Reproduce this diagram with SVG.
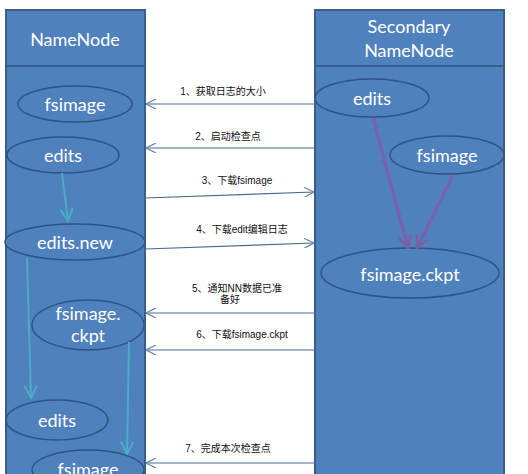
<svg xmlns="http://www.w3.org/2000/svg" width="528" height="474" viewBox="0 0 528 474">
<defs>
<style>
.box{fill:#4f81bd;stroke:#3b5f8d;stroke-width:2}
.ell{fill:#4f81bd;stroke:#2f5486;stroke-width:1.5}
.t{font-family:Lato,"Open Sans","Noto Sans",sans-serif;font-size:18px;fill:#ffffff;text-anchor:middle}
.lb{font-family:"Liberation Sans","Noto Sans CJK SC",sans-serif;font-size:10px;fill:#111;text-anchor:middle}
.msg{stroke:#4a6a93;stroke-width:1.2;fill:none}
.teal{stroke:#4bacc6;stroke-width:2;fill:none}
.purp{stroke:#7d5ea8;stroke-width:3.5;fill:none;stroke-opacity:0.85}
</style>
<marker id="open" viewBox="0 0 10 10" refX="10" refY="5" markerWidth="10" markerHeight="10" markerUnits="userSpaceOnUse" orient="auto">
<path d="M0,0 L10,5 L0,10" fill="none" stroke="#6a87ab" stroke-width="1.2"/>
</marker>
<marker id="tealhead" viewBox="0 0 10 10" refX="9" refY="5" markerWidth="14" markerHeight="14" markerUnits="userSpaceOnUse" orient="auto">
<path d="M0,0.5 L9,5 L0,9.5" fill="none" stroke="#4bacc6" stroke-width="1.4"/>
</marker>
<marker id="purphead" viewBox="0 0 10 10" refX="9" refY="5" markerWidth="14" markerHeight="14" markerUnits="userSpaceOnUse" orient="auto">
<path d="M0,0.5 L9,5 L0,9.5" fill="none" stroke="#7d5ea8" stroke-width="1.8"/>
</marker>
</defs>

<g id="namenode">
<rect class="box" x="6" y="10" width="139" height="480"/>
<line x1="6" y1="66" x2="145" y2="66" stroke="#3b5f8d" stroke-width="2"/>
<text class="t" x="75" y="46">NameNode</text>
</g>

<g id="secondary">
<rect class="box" x="315" y="10" width="189" height="480"/>
<line x1="315" y1="66" x2="504" y2="66" stroke="#3b5f8d" stroke-width="2"/>
<text class="t" x="409" y="33">Secondary</text>
<text class="t" x="409" y="57">NameNode</text>
</g>

<g id="nn-fsimage"><ellipse class="ell" cx="75" cy="104" rx="57" ry="18"/><text class="t" x="75" y="111">fsimage</text></g>
<g id="nn-edits"><ellipse class="ell" cx="63" cy="155" rx="56" ry="18"/><text class="t" x="63" y="162">edits</text></g>
<g id="nn-editsnew"><ellipse class="ell" cx="75" cy="242" rx="70" ry="18"/><text class="t" x="75" y="249">edits.new</text></g>
<g id="nn-ckpt"><ellipse class="ell" cx="88" cy="325" rx="56" ry="25"/><text class="t" x="88" y="320">fsimage.</text><text class="t" x="88" y="342">ckpt</text></g>
<g id="nn-edits2"><ellipse class="ell" cx="57" cy="420" rx="51" ry="20"/><text class="t" x="57" y="427">edits</text></g>
<g id="nn-fsimage2"><ellipse class="ell" cx="88" cy="470" rx="56" ry="20"/><text class="t" x="88" y="476">fsimage</text></g>

<g id="sn-edits"><ellipse class="ell" cx="372" cy="98" rx="57" ry="19"/><text class="t" x="372" y="105">edits</text></g>
<g id="sn-fsimage"><ellipse class="ell" cx="447" cy="155" rx="57" ry="19"/><text class="t" x="447" y="162">fsimage</text></g>
<g id="sn-ckpt"><ellipse class="ell" cx="410" cy="273" rx="89" ry="25"/><text class="t" x="410" y="281">fsimage.ckpt</text></g>

<g id="connectors">
<line class="teal" x1="62" y1="173" x2="68" y2="221" marker-end="url(#tealhead)"/>
<line class="teal" x1="27" y1="258" x2="31" y2="398" marker-end="url(#tealhead)"/>
<line class="teal" x1="129" y1="342" x2="127" y2="454" marker-end="url(#tealhead)"/>
<line class="purp" x1="373" y1="118" x2="408" y2="248" marker-end="url(#purphead)"/>
<line class="purp" x1="453" y1="175" x2="417" y2="248" marker-end="url(#purphead)"/>

<line class="msg" x1="315" y1="104" x2="146" y2="104" marker-end="url(#open)"/>
<text class="lb" x="223" y="95">1、获取日志的大小</text>
<line class="msg" x1="315" y1="148" x2="146" y2="148" marker-end="url(#open)"/>
<text class="lb" x="228" y="140">2、启动检查点</text>
<line class="msg" x1="145" y1="198" x2="314" y2="192" marker-end="url(#open)"/>
<text class="lb" x="237" y="184">3、下载fsimage</text>
<line class="msg" x1="145" y1="249" x2="314" y2="243" marker-end="url(#open)"/>
<text class="lb" x="242" y="233">4、下载edit编辑日志</text>
<line class="msg" x1="315" y1="313" x2="146" y2="313" marker-end="url(#open)"/>
<text class="lb" x="237" y="292">5、通知NN数据已准</text>
<text class="lb" x="230" y="303">备好</text>
<line class="msg" x1="315" y1="350" x2="146" y2="350" marker-end="url(#open)"/>
<text class="lb" x="242" y="338">6、下载fsimage.ckpt</text>
<line class="msg" x1="315" y1="463" x2="146" y2="463" marker-end="url(#open)"/>
<text class="lb" x="228" y="452">7、完成本次检查点</text>
</g>
</svg>
